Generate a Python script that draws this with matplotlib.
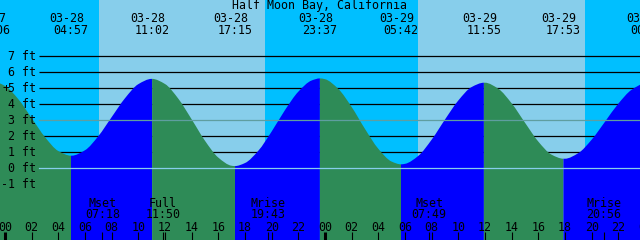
"""
Tide graph for Half Moon Bay, California, 03-28 .. 03-29 (XTide style).
Saves out.png at 640x240.
"""

import numpy as np
import matplotlib
matplotlib.use("Agg")
import matplotlib.pyplot as plt
from matplotlib.path import Path
from matplotlib.patches import PathPatch

# ----------------------------- DATA -----------------------------
# water level read every hour, hours counted from 03-28 00:00
HOURS = list(range(-1, 49))
HEIGHT_FT = [5.40, 5.13, 4.30, 3.12, 1.93, 1.06, 0.77, 1.11, 1.99, 3.18,
             4.36, 5.24, 5.57, 5.25, 4.33, 3.04, 1.70, 0.65, 0.14, 0.31,
             1.08, 2.28, 3.62, 4.77, 5.47, 5.55, 4.94, 3.81, 2.44, 1.20,
             0.40, 0.26, 0.76, 1.77, 3.03, 4.22, 5.06, 5.33, 4.95, 4.04,
             2.83, 1.65, 0.83, 0.58, 0.93, 1.77, 2.89, 4.02, 4.89, 5.29]

# highs and lows
TIDE_HOURS = [-0.9, 4.95, 11.033, 17.25, 23.617, 29.7, 35.917, 41.883, 48.2]
TIDE_FT = [5.4, 0.77, 5.57, 0.12, 5.6, 0.23, 5.33, 0.58, 5.3]
TIDE_DATES = ["03-27", "03-28", "03-28", "03-28", "03-28",
              "03-29", "03-29", "03-29", "03-30"]
TIDE_TIMES = ["23:06", "04:57", "11:02", "17:15", "23:37",
              "05:42", "11:55", "17:53", "00:12"]

# daylight
SUNRISE_HOURS = [7.05, 30.98]
SUNSET_HOURS = [19.5, 43.5]

# moon events
MOON_HOURS = [7.3, 11.833, 19.717, 31.817, 44.933]
MOON_NAMES = ["Mset", "Full", "Mrise", "Mset", "Mrise"]
MOON_TIMES = ["07:18", "11:50", "19:43", "07:49", "20:56"]

FT_LEVELS = [-1, 0, 1, 2, 3, 4, 5, 6, 7]
TICK_HOURS = list(range(0, 49, 2))
TICK_LABELS = [f"{h % 24:02d}" for h in TICK_HOURS]
# ------------------------------------------------------------------

NIGHT = "#00BFFF"
DAY = "#87CEEB"
RISE = "#0000FF"
FALL = "#2E8B57"
FONT = dict(family="DejaVu Sans Mono", fontsize=8.4, color="black")

PX_H = 320 / 24.0          # pixels per hour
PX0 = 5                    # pixel column of 03-28 00:00


def hx(px):
    # pixel column -> hours
    return (px - PX0) / PX_H


def fy(py):
    # pixel row -> feet
    return (168 - py) / 16.0


def slopes(x, y):
    # monotone (Fritsch-Carlson) slopes so the drawn curve stays smooth
    h = np.diff(x)
    d = np.diff(y) / h
    m = np.zeros_like(y)
    m[0], m[-1] = d[0], d[-1]
    for k in range(1, len(x) - 1):
        if d[k - 1] * d[k] > 0:
            w1 = 2 * h[k] + h[k - 1]
            w2 = h[k] + 2 * h[k - 1]
            m[k] = (w1 + w2) / (w1 / d[k - 1] + w2 / d[k])
    return m


def water_patch(x, y, m, bottom, color):
    verts = [(x[0], bottom), (x[0], y[0])]
    codes = [Path.MOVETO, Path.LINETO]
    for k in range(len(x) - 1):
        h = x[k + 1] - x[k]
        verts += [(x[k] + h / 3, y[k] + m[k] * h / 3),
                  (x[k + 1] - h / 3, y[k + 1] - m[k + 1] * h / 3),
                  (x[k + 1], y[k + 1])]
        codes += [Path.CURVE4] * 3
    verts += [(x[-1], bottom), (x[0], bottom)]
    codes += [Path.LINETO, Path.CLOSEPOLY]
    return PathPatch(Path(verts, codes), facecolor=color, edgecolor="none",
                     lw=0, zorder=2)


def main():
    fig = plt.figure(figsize=(6.4, 2.4), dpi=100, facecolor=NIGHT)
    ax = fig.add_axes([0, 0, 1, 1])
    ax.set_axis_off()
    ax.set_xlim(hx(0), hx(640))
    ax.set_ylim(fy(240), fy(0))

    # day / night background
    for r, s in zip(SUNRISE_HOURS, SUNSET_HOURS):
        ax.axvspan(r, s, color=DAY, lw=0, zorder=0)

    # level lines (hidden under the water)
    x_line0 = hx(39)
    for lv in FT_LEVELS:
        if lv in (-1, 0, 3):
            continue
        ax.plot([x_line0, 60], [lv, lv], color="black", lw=0.9, zorder=1,
                solid_capstyle="butt")

    # water: hourly points plus the extremes, coloured rising / falling
    t_all = np.array(HOURS + TIDE_HOURS, dtype=float)
    h_all = np.array(HEIGHT_FT + TIDE_FT, dtype=float)
    order = np.argsort(t_all)
    t_all, h_all = t_all[order], h_all[order]
    m_all = slopes(t_all, h_all)
    for k in range(len(TIDE_HOURS)):
        if TIDE_HOURS[k] == TIDE_HOURS[-1]:
            break
        t0, t1 = TIDE_HOURS[k], TIDE_HOURS[k + 1]
        sel = (t_all >= t0) & (t_all <= t1)
        col = RISE if TIDE_FT[k + 1] > TIDE_FT[k] else FALL
        ax.add_patch(water_patch(t_all[sel], h_all[sel], m_all[sel],
                                 fy(240) - 1, col))
    sel = t_all <= TIDE_HOURS[0]
    ax.add_patch(water_patch(t_all[sel], h_all[sel], m_all[sel],
                             fy(240) - 1, RISE))

    # datum and mean level lines on top
    ax.plot([x_line0, 60], [0, 0], color="#87CEEB", lw=0.9, zorder=3)
    ax.plot([x_line0, 60], [3, 3], color="#5F9EA0", lw=0.9, zorder=3)

    # level labels
    for lv in FT_LEVELS:
        ax.text(hx(36), lv - 0.25, f"{lv} ft", ha="right", va="baseline",
                zorder=5, **FONT)
    ax.text(hx(6), fy(88.5), "+", ha="center", va="center", zorder=5, **FONT)

    # title
    ax.text(hx(320), fy(9.3), "Half Moon Bay, California", ha="center",
            va="baseline", zorder=5, **FONT)

    # high / low labels
    for t, d, s in zip(TIDE_HOURS, TIDE_DATES, TIDE_TIMES):
        ax.text(t - 4.3 / PX_H, fy(21.7), d, ha="center", va="baseline",
                zorder=5, **FONT)
        ax.text(t, fy(34), s, ha="center", va="baseline", zorder=5, **FONT)

    # moon labels
    for t, n, s in zip(MOON_HOURS, MOON_NAMES, MOON_TIMES):
        ax.text(t, fy(206.7), n, ha="center", va="baseline", zorder=5, **FONT)
        ax.text(t, fy(218.3), s, ha="center", va="baseline", zorder=5, **FONT)

    # hour ticks
    for t, lab in zip(TICK_HOURS, TICK_LABELS):
        lw = 2.2 if t % 24 == 0 else 0.8
        ax.plot([t, t], [fy(232), fy(240) - 1], color="black", lw=lw,
                zorder=5, solid_capstyle="butt")
        ax.text(t, fy(230.7), lab, ha="center", va="baseline", zorder=5,
                **FONT)
    for t in MOON_HOURS:
        ax.plot([t, t], [fy(232), fy(240) - 1], color="black", lw=0.8,
                zorder=5, solid_capstyle="butt")

    fig.savefig("out.png", dpi=100)
    plt.close(fig)


if __name__ == "__main__":
    main()
